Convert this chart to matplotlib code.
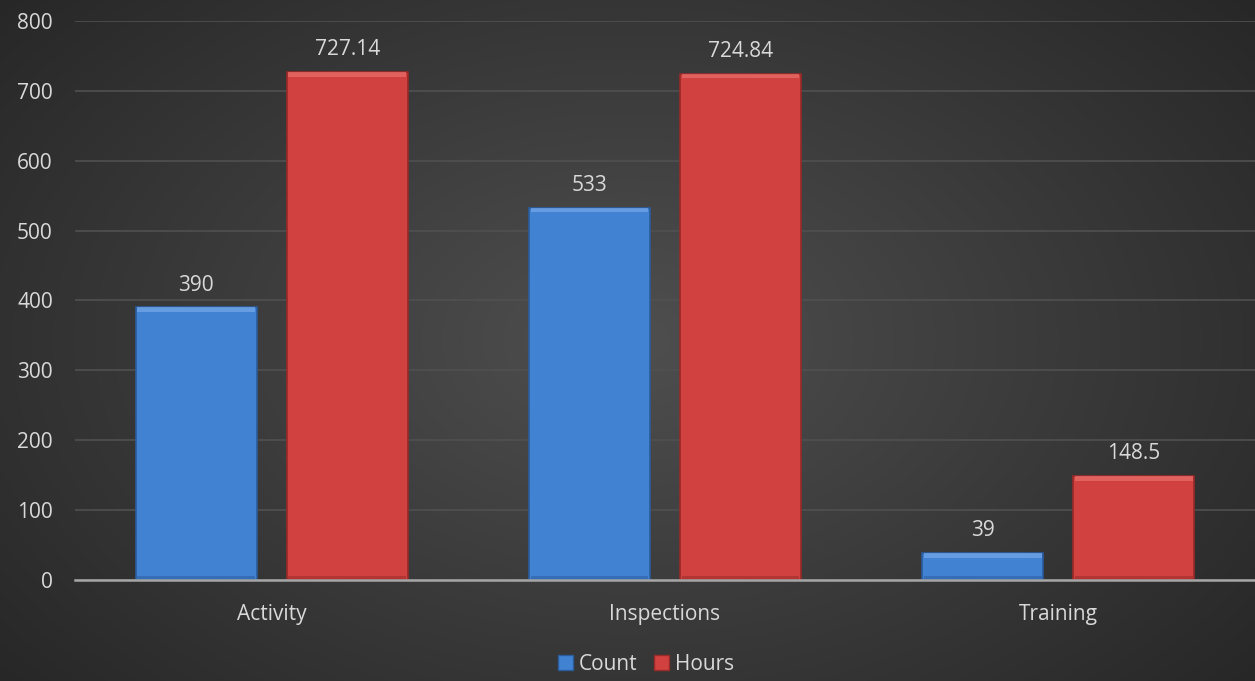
import numpy as np
import matplotlib
matplotlib.use('Agg')
import matplotlib.pyplot as plt
from matplotlib.patches import Patch

categories = ['Activity', 'Inspections', 'Training']
count = [390, 533, 39]
hours = [727.14, 724.84, 148.5]
count_labels = ['390', '533', '39']
hours_labels = ['727.14', '724.84', '148.5']

plt.rcParams['font.family'] = ['Open Sans', 'DejaVu Sans']
txt = '#d9d9d9'
fs = 15

fig = plt.figure(figsize=(12.55, 6.81), dpi=100)

# radial gradient background, dark grey
bg = fig.add_axes([0, 0, 1, 1], zorder=-10)
yy, xx = np.mgrid[0:1:300j, 0:1:500j]
r = np.sqrt(((xx - 0.5) * 1.2) ** 2 + ((yy - 0.5) * 1.0) ** 2)
g = np.clip(0.31 - 0.2 * r, 0, 1)
bg.imshow(np.dstack([g, g, g]), aspect='auto', extent=[0, 1, 0, 1])
bg.axis('off')

ax = fig.add_axes([75 / 1255, 1 - 580 / 681, 1 - 75 / 1255, (580 - 21) / 681])
ax.patch.set_alpha(0)

x = np.arange(len(categories))
w = 0.308
off = 0.192

def bevel_bars(xpos, vals, face, light, dark):
    ax.bar(xpos, vals, w, color=face, edgecolor=dark, linewidth=1.2, zorder=3)
    # light strip along the top edge
    ax.bar(xpos, [min(7, v * 0.3) for v in vals], w * 0.97,
           bottom=[v - min(7, v * 0.3) for v in vals], color=light, alpha=0.8, zorder=4, linewidth=0)
    # darker strip at the bottom
    ax.bar(xpos, [min(6, v * 0.2) for v in vals], w * 0.97, color=dark, alpha=0.5, zorder=4, linewidth=0)

bevel_bars(x - off, count, '#4282d3', '#6ea3e6', '#2a5c9c')
bevel_bars(x + off, hours, '#d0413f', '#e56a67', '#982a28')

for i in range(len(categories)):
    ax.text(x[i] - off, count[i] + 17, count_labels[i], ha='center', va='bottom', color=txt, fontsize=fs)
    ax.text(x[i] + off, hours[i] + 17, hours_labels[i], ha='center', va='bottom', color=txt, fontsize=fs)

ax.set_xlim(-0.5, 2.5)
ax.set_ylim(0, 800)
ax.set_yticks(range(0, 801, 100))
ax.set_xticks(x)
ax.set_xticklabels(categories)
ax.tick_params(colors=txt, labelsize=fs, length=0)
ax.tick_params(axis='x', pad=17)
ax.tick_params(axis='y', pad=16)
ax.grid(axis='y', color='#505050', linewidth=1.2, zorder=0)
for s in ['top', 'right', 'left']:
    ax.spines[s].set_visible(False)
ax.spines['bottom'].set_color('#a6a6a6')
ax.spines['bottom'].set_linewidth(1.8)
ax.spines['bottom'].set_zorder(5)

handles = [Patch(facecolor='#4282d3', edgecolor='#2a5c9c', label='Count'),
           Patch(facecolor='#d0413f', edgecolor='#982a28', label='Hours')]
fig.legend(handles=handles, loc='center', bbox_to_anchor=(646 / 1255, 1 - 664 / 681), ncol=2,
           frameon=False, fontsize=fs, labelcolor=txt, handlelength=0.7, handleheight=0.7,
           handletextpad=0.3, columnspacing=0.8)

fig.savefig('out.png', dpi=100)
